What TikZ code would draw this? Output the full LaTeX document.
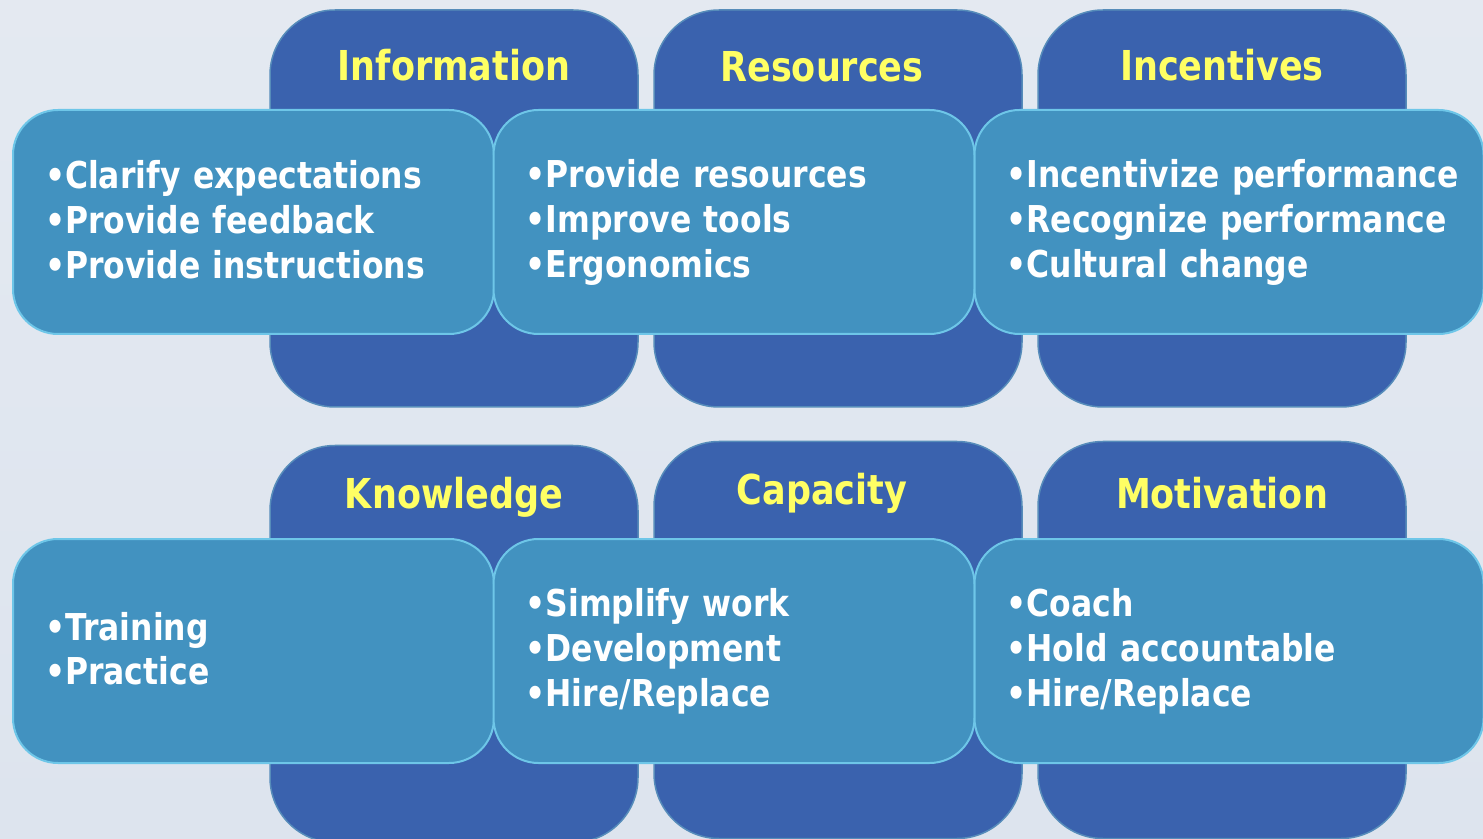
\documentclass[tikz,border=0pt]{standalone}
\usepackage{fontspec}
\setmainfont{DejaVu Sans}[FakeStretch=0.85]
\usepackage{tikz}
\definecolor{bg}{RGB}{221, 228, 238}
\definecolor{darkblue}{RGB}{58, 98, 174}
\definecolor{darkrim}{RGB}{86, 140, 186}
\definecolor{lightblue}{RGB}{66, 146, 192}
\definecolor{lightrim}{RGB}{110, 198, 232}
\definecolor{ttl}{RGB}{255, 255, 100}
\hyphenpenalty=10000
\newcommand{\itm}{\rule[-3.2pt]{0pt}{17.8pt}•}

\begin{document}
\begin{tikzpicture}[x=0.5pt, y=-0.5pt,
  back/.style={rectangle, rounded corners=32.5pt, fill=darkblue, draw=darkrim, line width=0.75pt, minimum width=184pt, minimum height=198.5pt},
  front/.style={rectangle, rounded corners=22.5pt, fill=lightblue, draw=lightrim, line width=1pt, minimum height=112pt, text width=208.5pt, inner xsep=16pt, align=left, text=white, font=\fontsize{18.5pt}{22.4pt}\selectfont\bfseries},
  title/.style={text=ttl, font=\fontsize{20.6pt}{24pt}\selectfont\bfseries}]
\useasboundingbox (0,0) rectangle (1483,839);
\fill [top color=bg!80!white, bottom color=bg] (0,0) rectangle (1483,839);
% dark boxes
\node (info) [back] at (454, 208.5) {};
\node (res) [back] at (838, 208.5) {};
\node (inc) [back] at (1222, 208.5) {};
\node (know) [back] at (454, 644) {};
\node (cap) [back] at (838, 640) {};
\node (mot) [back] at (1222, 640) {};
% titles
\node (infot) [title] at (454, 65) {Information};
\node (rest) [title] at (822, 67) {Resources};
\node (inct) [title] at (1222, 65) {Incentives};
\node (knowt) [title] at (454, 497) {Knowledge};
\node (capt) [title] at (822, 493) {Capacity};
\node (mott) [title] at (1222, 493) {Motivation};
% light boxes
\node (infob) [front] at (253.5, 222) {\itm Clarify expectations\\\itm Provide feedback\\\itm Provide instructions};
\node (resb) [front] at (734, 222) {\itm Provide resources\\\itm Improve tools\\\itm Ergonomics};
\node (incb) [front, text width=222.5pt] at (1229, 222) {\itm\mbox{Incentivize performance}\\\itm\mbox{Recognize performance}\\\itm Cultural change};
\node (knowb) [front] at (253.5, 651) {\itm Training\\\itm Practice};
\node (capb) [front] at (734, 651) {\itm Simplify work\\\itm Development\\\itm Hire/Replace};
\node (motb) [front, text width=222.5pt] at (1229, 651) {\itm Coach\\\itm Hold accountable\\\itm Hire/Replace};
\end{tikzpicture}
\end{document}
